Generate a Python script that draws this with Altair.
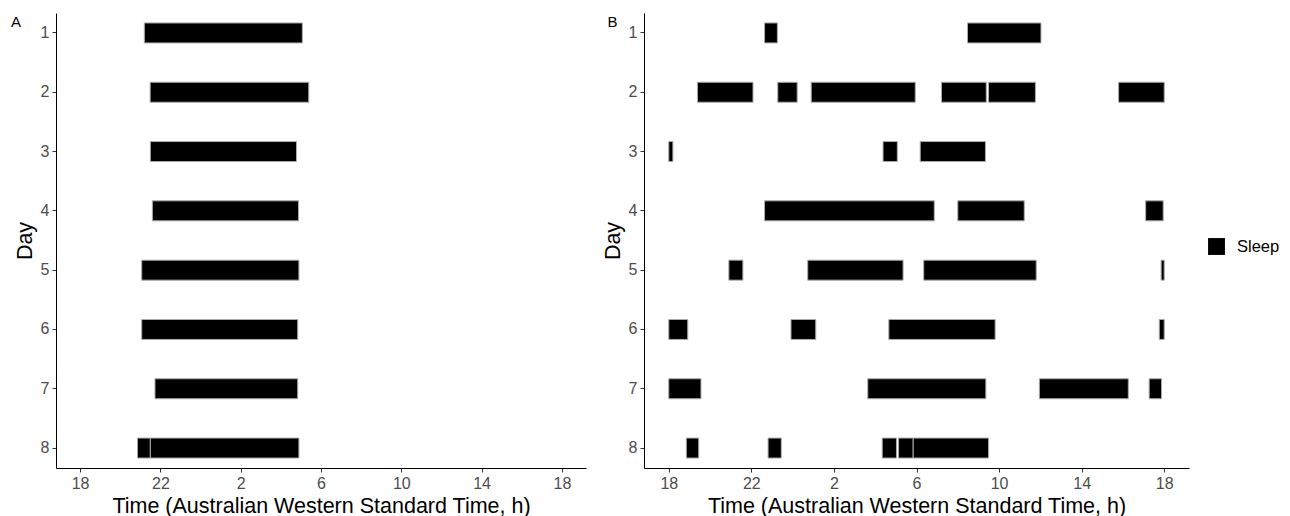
import altair as alt
import pandas as pd

# Hours since 18:00 (0 = 18:00, 24 = 18:00 next day)
days_a = [1, 2, 3, 4, 5, 6, 7, 8, 8]
start_a = [3.2, 3.49, 3.5, 3.6, 3.07, 3.07, 3.73, 2.86, 3.5]
end_a = [11.07, 11.39, 10.78, 10.88, 10.9, 10.84, 10.84, 3.5, 10.9]

days_b = [1, 1,
          2, 2, 2, 2, 2, 2,
          3, 3, 3,
          4, 4, 4,
          5, 5, 5, 5,
          6, 6, 6, 6,
          7, 7, 7, 7,
          8, 8, 8, 8, 8]
start_b = [4.64, 14.47,
           1.39, 5.28, 6.90, 13.21, 15.49, 21.79,
           0.0, 10.38, 12.18,
           4.64, 14.0, 23.1,
           2.91, 6.73, 12.35, 23.85,
           0.0, 5.92, 10.66, 23.76,
           0.0, 9.64, 17.95, 23.27,
           0.85, 4.81, 10.34, 11.13, 11.84]
end_b = [5.26, 18.03,
         4.08, 6.22, 11.94, 15.38, 17.76, 24.0,
         0.2, 11.07, 15.34,
         12.86, 17.22, 23.95,
         3.59, 11.35, 17.8, 24.0,
         0.92, 7.12, 15.81, 24.0,
         1.56, 15.36, 22.26, 23.87,
         1.45, 5.45, 11.03, 11.84, 15.49]

tick_values = [0, 4, 8, 12, 16, 20, 24]
tick_labels = ["18", "22", "2", "6", "10", "14", "18"]
state = "Sleep"

label_expr = "[" + ",".join("'%s'" % t for t in tick_labels) + "][round(datum.value/4)]"

FONT = "Liberation Sans"


def panel(days, starts, ends, letter, width, letter_x):
    df = pd.DataFrame({"day": days, "start": starts, "end": ends, "state": state})
    x = alt.X(
        "start:Q",
        title="Time (Australian Western Standard Time, h)",
        scale=alt.Scale(domain=[-1.2, 25.2], nice=False, zero=False),
        axis=alt.Axis(values=tick_values, labelExpr=label_expr),
    )
    y = alt.Y(
        "day:O",
        title="Day",
        scale=alt.Scale(paddingInner=0.663, paddingOuter=0.168),
    )
    bars = alt.Chart(df).mark_bar(stroke="#aaaaaa", strokeWidth=1).encode(
        x=x,
        x2="end:Q",
        y=y,
        color=alt.Color(
            "state:N",
            scale=alt.Scale(domain=[state], range=["black"]),
            legend=alt.Legend(
                title=None,
                orient="none",
                legendX=1152,
                legendY=225,
                padding=0,
                symbolType="square",
                symbolSize=285,
                symbolStrokeWidth=0,
                labelFontSize=16.5,
                labelOffset=12,
                labelFont=FONT,
                labelColor="black",
            ),
        ),
    )
    lab = alt.Chart(pd.DataFrame({"lbl": [letter]})).mark_text(
        font=FONT, fontSize=15, color="black", align="center", baseline="middle"
    ).encode(text="lbl:N", x=alt.value(letter_x), y=alt.value(8.5))
    return alt.layer(bars, lab).properties(width=width, height=455)


chart_a = panel(days_a, start_a, end_a, "A", 530, -40)
chart_b = panel(days_b, start_b, end_b, "B", 545, -31.5)

chart = alt.hconcat(chart_a, chart_b, spacing=16).configure(
    font=FONT,
    padding={"left": 2, "top": 5, "right": 0, "bottom": 0},
).configure_view(stroke=None).configure_axis(
    grid=False,
    domainColor="black",
    domainWidth=1,
    tickColor="#333333",
    tickSize=4,
    labelFont=FONT,
    labelFontSize=16,
    labelColor="#4d4d4d",
    labelPadding=3,
    titleFont=FONT,
    titleFontSize=21.5,
    titleFontWeight="normal",
    titleColor="black",
).configure_axisX(titlePadding=4).configure_axisY(titlePadding=4)

chart.save("out.html", embed_options={"renderer": "svg", "actions": False})
